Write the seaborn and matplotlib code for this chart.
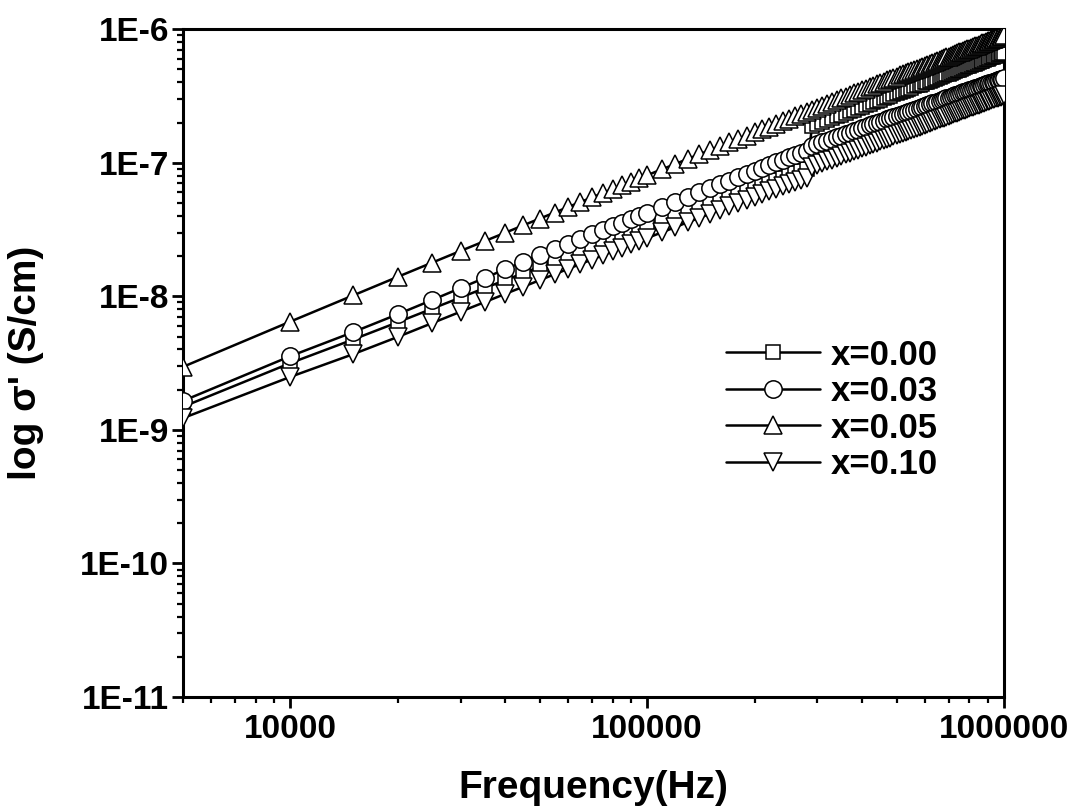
import numpy as np
import pandas as pd
import matplotlib
matplotlib.use("Agg")
import matplotlib.pyplot as plt
import matplotlib.ticker as mticker
import seaborn as sns

# frequency grid (kHz) and log10 conductivity
freq_khz = [5, 10, 15, 20, 25, 30, 35, 40, 45, 50, 55, 60, 65, 70, 75, 80, 85, 90, 95, 100,
            110, 120, 130, 140, 150, 160, 170, 180, 190, 200, 210, 220, 230, 240, 250, 260,
            270, 280, 290, 300,
            310, 320, 330, 340, 350, 360, 370, 380, 390, 400, 410, 420, 430, 440, 450, 460,
            470, 480, 490, 500, 510, 520, 530, 540, 550, 560, 570, 580, 590, 600, 610, 620,
            630, 640, 650, 660, 670, 680, 690, 700, 710, 720, 730, 740, 750, 760, 770, 780,
            790, 800, 810, 820, 830, 840, 850, 860, 870, 880, 890, 900, 910, 920, 930, 940,
            950, 960, 970, 980, 990, 1000]

log_x000 = [-8.827, -8.500, -8.323, -8.194, -8.092, -8.009, -7.939, -7.879, -7.826, -7.778,
            -7.735, -7.696, -7.660, -7.628, -7.597, -7.569, -7.543, -7.519, -7.495, -7.473,
            -7.432, -7.395, -7.360, -7.329, -7.300, -7.273, -7.249, -7.225, -7.203, -7.183,
            -7.163, -7.145, -7.127, -7.111, -7.094, -7.078, -7.064, -7.049, -6.723, -6.707,
            -6.693, -6.679, -6.665, -6.651, -6.639, -6.626, -6.614, -6.602, -6.590, -6.579,
            -6.568, -6.557, -6.546, -6.536, -6.527, -6.517, -6.507, -6.498, -6.488, -6.479,
            -6.471, -6.463, -6.454, -6.446, -6.437, -6.429, -6.421, -6.415, -6.407, -6.399,
            -6.392, -6.385, -6.378, -6.371, -6.365, -6.358, -6.351, -6.345, -6.338, -6.332,
            -6.325, -6.319, -6.313, -6.308, -6.302, -6.296, -6.290, -6.284, -6.278, -6.273,
            -6.267, -6.262, -6.257, -6.252, -6.247, -6.241, -6.236, -6.231, -6.226, -6.221,
            -6.216, -6.211, -6.206, -6.203, -6.198, -6.193, -6.189, -6.184, -6.179, -6.175]

log_x003 = [-8.783, -8.448, -8.268, -8.134, -8.027, -7.938, -7.863, -7.798, -7.741, -7.690,
            -7.646, -7.606, -7.569, -7.536, -7.504, -7.475, -7.448, -7.423, -7.398, -7.375,
            -7.332, -7.292, -7.255, -7.221, -7.190, -7.160, -7.134, -7.107, -7.083, -7.060,
            -7.038, -7.017, -6.997, -6.979, -6.960, -6.943, -6.927, -6.911, -6.875, -6.860,
            -6.847, -6.834, -6.821, -6.808, -6.797, -6.785, -6.774, -6.763, -6.752, -6.741,
            -6.731, -6.721, -6.711, -6.702, -6.693, -6.684, -6.675, -6.666, -6.657, -6.649,
            -6.641, -6.634, -6.625, -6.618, -6.610, -6.603, -6.595, -6.589, -6.582, -6.574,
            -6.568, -6.562, -6.555, -6.549, -6.543, -6.536, -6.530, -6.524, -6.518, -6.513,
            -6.506, -6.501, -6.495, -6.490, -6.484, -6.479, -6.473, -6.468, -6.463, -6.458,
            -6.453, -6.448, -6.443, -6.438, -6.433, -6.428, -6.423, -6.419, -6.414, -6.410,
            -6.405, -6.401, -6.396, -6.393, -6.388, -6.383, -6.380, -6.375, -6.371, -6.367]

log_x005 = [-8.528, -8.189, -7.993, -7.854, -7.747, -7.660, -7.587, -7.524, -7.468, -7.418,
            -7.373, -7.332, -7.294, -7.260, -7.227, -7.197, -7.169, -7.143, -7.117, -7.093,
            -7.049, -7.009, -6.971, -6.937, -6.905, -6.875, -6.848, -6.821, -6.796, -6.773,
            -6.750, -6.729, -6.708, -6.689, -6.670, -6.652, -6.636, -6.619, -6.603, -6.587,
            -6.572, -6.558, -6.544, -6.530, -6.517, -6.504, -6.492, -6.480, -6.468, -6.456,
            -6.445, -6.434, -6.423, -6.413, -6.403, -6.393, -6.383, -6.374, -6.364, -6.355,
            -6.346, -6.338, -6.329, -6.321, -6.312, -6.304, -6.296, -6.289, -6.281, -6.273,
            -6.266, -6.259, -6.252, -6.245, -6.238, -6.231, -6.224, -6.218, -6.211, -6.205,
            -6.198, -6.192, -6.186, -6.180, -6.174, -6.168, -6.162, -6.156, -6.150, -6.145,
            -6.139, -6.134, -6.128, -6.123, -6.118, -6.112, -6.107, -6.102, -6.097, -6.092,
            -6.087, -6.082, -6.077, -6.073, -6.068, -6.063, -6.059, -6.054, -6.049, -6.045]

log_x010 = [-8.912, -8.603, -8.433, -8.304, -8.200, -8.115, -8.044, -7.982, -7.928, -7.879,
            -7.835, -7.795, -7.758, -7.725, -7.693, -7.664, -7.637, -7.612, -7.587, -7.564,
            -7.521, -7.482, -7.445, -7.413, -7.382, -7.353, -7.327, -7.301, -7.278, -7.256,
            -7.234, -7.214, -7.194, -7.177, -7.159, -7.142, -7.127, -7.111, -7.033, -7.018,
            -7.003, -6.990, -6.976, -6.963, -6.950, -6.938, -6.926, -6.914, -6.903, -6.891,
            -6.881, -6.870, -6.859, -6.850, -6.840, -6.830, -6.821, -6.812, -6.802, -6.794,
            -6.785, -6.777, -6.769, -6.761, -6.752, -6.745, -6.737, -6.730, -6.722, -6.715,
            -6.708, -6.701, -6.695, -6.688, -6.681, -6.674, -6.668, -6.662, -6.655, -6.649,
            -6.642, -6.637, -6.631, -6.625, -6.619, -6.614, -6.608, -6.602, -6.596, -6.591,
            -6.586, -6.581, -6.575, -6.570, -6.565, -6.560, -6.555, -6.550, -6.545, -6.540,
            -6.535, -6.531, -6.526, -6.522, -6.517, -6.512, -6.509, -6.504, -6.499, -6.495]

labels = ["x=0.00", "x=0.03", "x=0.05", "x=0.10"]
markers = ["s", "o", "^", "v"]
marker_sizes = [10, 12.5, 13, 13]

x_ticks = [10000, 100000, 1000000]
y_ticks = [1e-11, 1e-10, 1e-9, 1e-8, 1e-7, 1e-6]


def main():
	sns.set_style("ticks")
	plt.rcParams["font.family"] = ["Liberation Sans", "DejaVu Sans"]
	plt.rcParams["font.weight"] = "bold"
	for key in ["text.color", "axes.labelcolor", "xtick.color", "ytick.color", "axes.edgecolor"]:
		plt.rcParams[key] = "black"

	freq = np.array(freq_khz) * 1000.0
	series = [log_x000, log_x003, log_x005, log_x010]

	fig = plt.figure(figsize=(10.83, 8.11), dpi=100)
	ax = fig.add_axes([0.169, 0.1406, 0.758, 0.8234])

	for i, (logs, lab) in enumerate(zip(series, labels)):
		df = pd.DataFrame({"freq": freq, "sigma": 10.0 ** np.array(logs)})
		sns.lineplot(
			data=df, x="freq", y="sigma", ax=ax,
			color="black", linewidth=1.8, errorbar=None,
			marker=markers[i], markersize=marker_sizes[i],
			markerfacecolor="white", markeredgecolor="black",
			markeredgewidth=1.1, label=lab, zorder=3 + i,
		)

	ax.set_xscale("log")
	ax.set_yscale("log")
	ax.set_xlim(5000, 1000000)
	ax.set_ylim(1e-11, 1e-6)

	ax.xaxis.set_major_locator(mticker.FixedLocator(x_ticks))
	ax.xaxis.set_major_formatter(mticker.FuncFormatter(lambda v, p: f"{int(round(v))}"))
	ax.xaxis.set_minor_locator(mticker.LogLocator(base=10, subs=np.arange(2, 10), numticks=20))
	ax.xaxis.set_minor_formatter(mticker.NullFormatter())
	ax.yaxis.set_major_locator(mticker.FixedLocator(y_ticks))
	ax.yaxis.set_major_formatter(mticker.FuncFormatter(lambda v, p: f"1E{int(round(np.log10(v)))}"))
	ax.yaxis.set_minor_locator(mticker.LogLocator(base=10, subs=np.arange(2, 10), numticks=20))
	ax.yaxis.set_minor_formatter(mticker.NullFormatter())

	for s in ax.spines.values():
		s.set_linewidth(2.2)
		s.set_color("black")
	ax.tick_params(which="major", direction="out", length=8, width=2.0, top=False, right=False)
	ax.tick_params(which="minor", direction="out", length=4.5, width=1.6, top=False, right=False)
	ax.tick_params(axis="x", which="major", labelsize=24, pad=4)
	ax.tick_params(axis="y", which="major", labelsize=24, pad=2)
	for t in ax.get_xticklabels() + ax.get_yticklabels():
		t.set_fontweight("bold")

	ax.set_xlabel("Frequency(Hz)", fontsize=28, fontweight="bold", labelpad=18)
	ax.set_ylabel("log σ' (S/cm)", fontsize=28, fontweight="bold", labelpad=26)

	ax.legend(
		loc="center left", bbox_to_anchor=(0.645, 0.43), frameon=False,
		prop={"size": 25, "weight": "bold"}, handlelength=2.7,
		handletextpad=0.3, labelspacing=0.1, borderaxespad=0,
	)

	fig.savefig("out.png", dpi=100, facecolor="white")
	plt.close(fig)


if __name__ == "__main__":
	main()
